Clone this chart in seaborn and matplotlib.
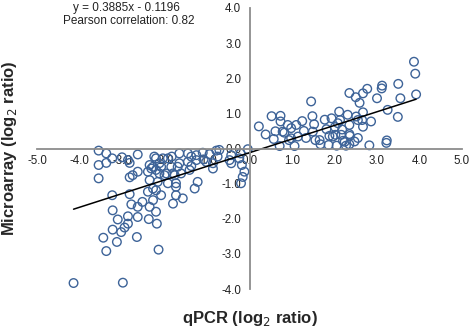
import numpy as np
import pandas as pd
import matplotlib
matplotlib.use("Agg")
import matplotlib.pyplot as plt
import seaborn as sns
from matplotlib.ticker import MultipleLocator, FormatStrFormatter

# qPCR vs microarray log2 ratios
qpcr_neg = [-4.14, -2.98, -3.37, -2.14, -3.44, -3.12, -2.65, -3.22, -3.02, -2.94,
            -2.18, -3.10, -2.86, -2.37, -2.86, -2.63, -3.22, -2.20, -2.78, -2.63,
            -2.52, -2.35, -2.27, -3.23, -2.82, -2.39, -2.20, -1.80, -1.57, -1.73,
            -1.29, -1.22, -2.27, -2.08, -3.55, -2.82, -2.75, -2.63, -2.39, -2.20,
            -2.00, -1.80, -1.61, -1.41, -0.86, -2.35, -2.16, -1.92, -1.73, -1.73,
            -1.76, -0.12, -0.16, -0.20, -0.18, -3.55, -3.37, -3.23, -3.00, -2.63,
            -3.55, -3.37, -2.82, -2.86, -2.27, -2.35, -2.12, -1.84, -1.65, -1.45,
            -1.25, -1.02, -0.86, -0.43, -2.20, -1.92, -1.65, -1.37, -1.10, -0.78,
            -2.24, -2.04, -1.83, -1.45, -1.25, -1.08, -0.94, -0.75, -0.47, -0.43,
            -0.21, -0.24, -0.04, -0.71, -2.31, -1.69, -1.37, -2.08, -1.96, -2.12]
array_neg = [-3.83, -3.82, -2.92, -2.88, -2.54, -2.66, -2.52, -2.31, -2.38, -2.25,
             -2.14, -2.02, -2.14, -2.01, -1.93, -1.95, -1.76, -1.80, -1.59, -1.66,
             -1.52, -1.66, -1.47, -1.33, -1.30, -1.23, -1.19, -1.57, -1.42, -1.33,
             -1.14, -0.95, -1.14, -1.33, -0.85, -0.82, -0.76, -0.66, -0.66, -0.61,
             -0.76, -0.71, -0.71, -0.61, -0.57, -0.90, -0.95, -0.99, -0.99, -1.09,
             -0.76, -0.66, -0.81, -0.99, -0.47, -0.06, -0.14, -0.28, -0.25, -0.17,
             -0.47, -0.41, -0.41, -0.33, -0.52, -0.47, -0.42, -0.52, -0.42, -0.38,
             -0.33, -0.38, -0.42, -0.42, -0.28, -0.28, -0.14, -0.23, -0.12, -0.06,
             -0.23, -0.28, -0.23, -0.14, -0.19, -0.31, -0.16, -0.23, -0.33, -0.19,
             -0.14, -0.28, -0.02, -0.04, -0.57, -0.52, -0.50, -0.52, -0.71, -0.71]

qpcr_pos = [0.22, 0.38, 0.52, 0.57, 0.61, 0.73, 0.73, 0.71, 0.82, 0.93,
            0.98, 1.06, 1.10, 1.14, 1.24, 1.28, 1.33, 1.45, 1.48, 1.52,
            1.55, 1.67, 1.77, 1.81, 1.86, 1.93, 1.96, 2.01, 2.05, 2.11,
            2.13, 2.18, 2.20, 2.27, 2.31, 2.35, 2.36, 2.47, 2.50, 2.51,
            2.55, 2.59, 2.65, 2.67, 2.67, 2.67, 2.77, 2.82, 2.86, 3.00,
            3.12, 3.11, 3.25, 3.22, 3.23, 3.49, 3.50, 3.55, 3.87, 3.90,
            3.92, 0.78, 0.90, 0.98, 1.49, 1.65, 1.88, 2.02, 2.08, 2.16,
            2.35, 2.24, 2.35, 2.55, 2.35]
array_pos = [0.63, 0.40, 0.92, 0.27, 0.49, 0.93, 0.77, 0.07, 0.45, 0.24,
             0.58, 0.07, 0.67, 0.34, 0.78, 0.50, 0.30, 1.34, 0.92, 0.69,
             0.24, 0.12, 0.82, 0.55, 0.10, 0.86, 0.34, 0.61, 0.08, 1.05,
             0.81, 0.54, 0.22, 0.08, 0.96, 1.58, 0.36, 0.20, 1.46, 0.91,
             0.30, 1.30, 0.81, 1.57, 1.03, 0.62, 1.70, 0.09, 0.77, 1.43,
             1.79, 1.71, 1.10, 0.16, 0.23, 0.90, 1.84, 1.43, 2.47, 2.13,
             1.54, 0.48, 0.67, 0.29, 0.48, 0.24, 0.36, 0.39, 0.72, 0.39,
             0.41, 0.19, 0.12, 0.81, 0.67]

slope = 0.3885
intercept = -0.1196
pearson_r = 0.82

df = pd.DataFrame({"qpcr": qpcr_neg + qpcr_pos, "array": array_neg + array_pos})

sns.set_style("white")
plt.rcParams["font.family"] = ["Liberation Sans", "DejaVu Sans"]
plt.rcParams["axes.unicode_minus"] = False

fig = plt.figure(figsize=(4.7, 3.33), dpi=100)
ax = fig.add_axes([37 / 470, 44 / 333, 425 / 470, 281 / 333])

sns.scatterplot(data=df, x="qpcr", y="array", ax=ax, marker="o", s=38,
                facecolors="none", edgecolor="#3d6398", linewidth=1.0, zorder=1)

# trend line over the data range
xfit = np.array([df["qpcr"].min(), df["qpcr"].max()])
ax.plot(xfit, slope * xfit + intercept, color="black", linewidth=1.1, zorder=2)

ax.set_xlim(-5, 5)
ax.set_ylim(-4, 4)
ax.xaxis.set_major_locator(MultipleLocator(1))
ax.yaxis.set_major_locator(MultipleLocator(1))
ax.xaxis.set_major_formatter(FormatStrFormatter("%.1f"))
ax.yaxis.set_major_formatter(FormatStrFormatter("%.1f"))

for side in ["top", "right"]:
    ax.spines[side].set_visible(False)
for side in ["left", "bottom"]:
    ax.spines[side].set_position(("data", 0))
    ax.spines[side].set_color("#8c8c8c")
    ax.spines[side].set_linewidth(1.3)

ax.tick_params(axis="x", length=0, pad=5, labelsize=8.3, labelcolor="#222222")
ax.tick_params(axis="y", length=0, pad=6, labelsize=8.3, labelcolor="#222222")

ax.set_xlabel("qPCR (log$_2$ ratio)", fontsize=12, fontweight="bold")
ax.set_ylabel("Microarray (log$_2$ ratio)", fontsize=12, fontweight="bold")
ax.xaxis.set_label_coords(0.501, -0.07)
ax.yaxis.set_label_coords(-0.042, 0.502)

fig.text(126 / 470, 1 - 8 / 333, f"y = {slope}x - {abs(intercept)}",
         ha="center", va="center", fontsize=8.5, color="#222222")
fig.text(129 / 470, 1 - 21 / 333, f"Pearson correlation: {pearson_r}",
         ha="center", va="center", fontsize=8.5, color="#222222")

fig.savefig("out.png", dpi=100)
